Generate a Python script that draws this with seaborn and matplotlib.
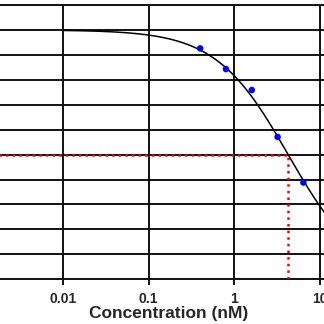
import numpy as np
import pandas as pd
import matplotlib
matplotlib.use("Agg")
import matplotlib.pyplot as plt
import seaborn as sns

# ---- data ----
conc_nM = [0.4, 0.8, 1.6, 3.2, 6.4]
response_pct = [92.6, 84.3, 75.9, 57.1, 38.8]
# fitted dose-response parameters (4PL)
fit_top = 100.0
fit_bottom = 0.0
fit_ic50 = 4.25
fit_hill = 1.03
curve_start, curve_end = 0.01, 100.0
tick_values = [0.001, 0.01, 0.1, 1, 10, 100]
tick_labels = ["", "0.01", "0.1", "1", "10", ""]
x_label = "Concentration (nM)"

sns.set_style("white")
plt.rcParams["font.family"] = ["Liberation Sans", "DejaVu Sans"]

fig = plt.figure(figsize=(3.24, 3.24), dpi=100)
W = H = 324.0
# pixel geometry of the (cropped) axes
x0_px = -22.8
x1_px = 405.7
top_px = 5.0
bot_px = 279.3
ax = fig.add_axes([x0_px / W, (H - bot_px) / H, (x1_px - x0_px) / W, (bot_px - top_px) / H])

xs = np.logspace(np.log10(curve_start), np.log10(curve_end), 400)
curve = fit_bottom + (fit_top - fit_bottom) / (1 + (xs / fit_ic50) ** fit_hill)
df_curve = pd.DataFrame({"x": xs, "y": curve})
df_pts = pd.DataFrame({"x": conc_nM, "y": response_pct})

ax.set_xscale("log")
ax.set_xlim(0.001, 100)
ax.set_ylim(0, 110)

# grid
ax.set_yticks(np.arange(0, 111, 10))
ax.set_xticks(tick_values)
ax.set_xticklabels(tick_labels)
ax.xaxis.set_minor_locator(matplotlib.ticker.NullLocator())
ax.grid(True, which="major", color="#111111", linewidth=1.4)
ax.set_axisbelow(True)
for name, s in ax.spines.items():
    if name in ("top", "bottom"):
        s.set_visible(True)
        s.set_color("#111111")
        s.set_linewidth(1.4)
    else:
        s.set_visible(False)

# IC50 guide lines
half = fit_bottom + (fit_top - fit_bottom) / 2
ax.plot([0.001, fit_ic50], [half, half], color="red", linestyle=":", linewidth=1.8, zorder=3)
ax.plot([fit_ic50, fit_ic50], [0, half], color="red", linestyle=":", linewidth=1.8, zorder=3)

sns.lineplot(data=df_curve, x="x", y="y", ax=ax, color="black", linewidth=1.1, zorder=4)
sns.scatterplot(data=df_pts, x="x", y="y", ax=ax, color="#0000ff", s=22, edgecolor="none", zorder=5)

ax.tick_params(axis="x", which="major", length=4, width=1.4, color="#111111", pad=5,
               labelsize=10, bottom=True)
for lab in ax.get_xticklabels():
    lab.set_fontweight("bold")
ax.tick_params(axis="y", left=False, labelleft=False)
ax.set_ylabel("")
ax.set_xlabel(x_label, fontsize=12.5, fontweight="bold")
ax.xaxis.set_label_coords(169 / W, 1 - 313.7 / H, transform=fig.transFigure)
ax.xaxis.label.set_va("center")

fig.savefig("out.png", dpi=100)
